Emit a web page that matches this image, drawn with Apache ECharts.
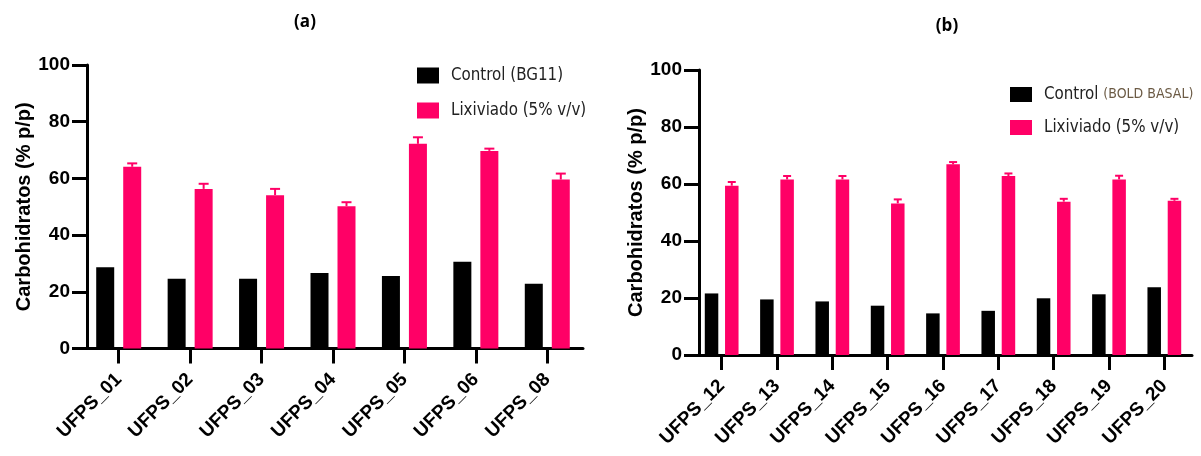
<!DOCTYPE html>
<html>
<head>
<meta charset="utf-8">
<script src="https://cdn.jsdelivr.net/npm/echarts@6/dist/echarts.min.js"></script>
<style>
html,body{margin:0;padding:0;background:#fff;}
#chart{width:1201px;height:456px;}
</style>
</head>
<body>
<div id="chart"></div>
<script>
// ---- Data ----
const categoriesA = ['UFPS_01','UFPS_02','UFPS_03','UFPS_04','UFPS_05','UFPS_06','UFPS_08'];
const controlA = [28.7, 24.6, 24.6, 26.6, 25.6, 30.6, 22.8];
const lixA = [64.1, 56.3, 54.1, 50.2, 72.2, 69.7, 59.6];
const lixErrA = [1.2, 1.8, 2.2, 1.4, 2.3, 0.8, 2.1];

const categoriesB = ['UFPS_12','UFPS_13','UFPS_14','UFPS_15','UFPS_16','UFPS_17','UFPS_18','UFPS_19','UFPS_20'];
const controlB = [21.6, 19.5, 18.8, 17.3, 14.6, 15.5, 19.9, 21.3, 23.8];
const lixB = [59.4, 61.6, 61.6, 53.2, 66.9, 62.8, 53.8, 61.6, 54.1];
const lixErrB = [1.3, 1.2, 1.2, 1.4, 0.8, 0.9, 1.0, 1.3, 0.7];

const yTicks = [0, 20, 40, 60, 80, 100];

const nameCtrlA = 'Control (BG11)';
const nameCtrlB = 'Control (BOLD BASAL)';
const nameLix = 'Lixiviado (5% v/v)';

// ---- Styles ----
const PINK = '#ff0066';
const BLACK = '#000000';
const BOLD_FONT = 'Liberation Sans';

// pick a condensed font for the legend if one is installed
function pickLegendFont() {
  const c = document.createElement('canvas').getContext('2d');
  const probe = 'Control (BG11) Lixiviado';
  const cands = ['Liberation Sans Narrow', 'DejaVu Sans Condensed', 'Arial Narrow', 'Roboto Condensed', 'Open Sans Condensed'];
  c.font = '100px monospace';
  const wMono = c.measureText(probe).width;
  c.font = '100px serif';
  const wSerif = c.measureText(probe).width;
  for (const f of cands) {
    c.font = '100px "' + f + '", monospace';
    const a = c.measureText(probe).width;
    c.font = '100px "' + f + '", serif';
    const b = c.measureText(probe).width;
    if (a !== wMono || b !== wSerif) return f;
  }
  return 'Liberation Sans';
}
const LEG_FONT = pickLegendFont();
function legendSize(target) {
  const c = document.createElement('canvas').getContext('2d');
  c.font = '100px "' + LEG_FONT + '"';
  const w = c.measureText(nameCtrlA).width;
  return Math.min(19, Math.max(13, Math.round(target * 100 / w * 10) / 10));
}
const LEG_SIZE = legendSize(112);

const chart = echarts.init(document.getElementById('chart'), null, {renderer: 'canvas'});

function errorSeries(xIdx, yIdx, means, errs, offset, capHalf) {
  return {
    type: 'custom',
    xAxisIndex: xIdx, yAxisIndex: yIdx,
    z: 5,
    silent: true,
    data: means.map((m, i) => [i, m, errs[i]]),
    renderItem: function (params, api) {
      const i = api.value(0), m = api.value(1), e = api.value(2);
      const base = api.coord([i, m]);
      const top = api.coord([i, m + e]);
      const cx = base[0] + offset;
      return {
        type: 'group',
        children: [
          {type: 'line', shape: {x1: cx, y1: base[1], x2: cx, y2: top[1]}, style: {stroke: PINK, lineWidth: 2}},
          {type: 'line', shape: {x1: cx - capHalf, y1: top[1], x2: cx + capHalf, y2: top[1]}, style: {stroke: PINK, lineWidth: 2}}
        ]
      };
    }
  };
}

function yAxisCfg(gridIndex, offset, nameGap) {
  return {
    type: 'value', gridIndex: gridIndex, min: 0, max: 100, interval: 20,
    offset: offset,
    name: 'Carbohidratos (% p/p)',
    nameLocation: 'middle', nameGap: nameGap,
    nameTextStyle: {fontFamily: BOLD_FONT, fontWeight: 'bold', fontSize: 20, color: BLACK},
    axisLine: {show: true, lineStyle: {color: BLACK, width: 3}},
    axisTick: {show: true, length: 15, lineStyle: {color: BLACK, width: 3}},
    axisLabel: {
      margin: 17, fontFamily: BOLD_FONT, fontWeight: 'bold', fontSize: 19, color: BLACK,
      formatter: v => (yTicks.indexOf(v) >= 0 ? String(v) : '')
    },
    splitLine: {show: false}
  };
}

function xAxisCfg(gridIndex, cats) {
  return {
    type: 'category', gridIndex: gridIndex, data: cats, boundaryGap: true,
    axisLine: {show: true, lineStyle: {color: BLACK, width: 3}},
    axisTick: {show: true, alignWithLabel: true, length: 15, lineStyle: {color: BLACK, width: 3}},
    axisLabel: {rotate: 45, margin: 28, interval: 0, fontFamily: BOLD_FONT, fontWeight: 'bold', fontSize: 19, color: BLACK}
  };
}

const option = {
  animation: false,
  backgroundColor: '#ffffff',
  title: [
    {text: '(a)', left: 300, top: 9, textAlign: 'center',
     textStyle: {fontFamily: '"Open Sans", sans-serif', fontWeight: 'bold', fontSize: 17, color: BLACK}},
    {text: '(b)', left: 942, top: 13, textAlign: 'center',
     textStyle: {fontFamily: '"Open Sans", sans-serif', fontWeight: 'bold', fontSize: 17, color: BLACK}}
  ],
  legend: [
    {
      orient: 'vertical', left: 412, top: 62, itemWidth: 22, itemHeight: 16, itemGap: 18,
      icon: 'rect', selectedMode: false,
      data: [nameCtrlA, nameLix],
      textStyle: {fontFamily: LEG_FONT, fontSize: LEG_SIZE, color: '#222', padding: [0, 0, 0, 7]}
    },
    {
      orient: 'vertical', left: 1005, top: 81, itemWidth: 22, itemHeight: 15, itemGap: 16,
      icon: 'rect', selectedMode: false,
      data: [nameCtrlB, nameLix],
      formatter: function (name) {
        if (name === nameCtrlB) return 'Control {s|(BOLD BASAL)}';
        return name;
      },
      textStyle: {
        fontFamily: LEG_FONT, fontSize: LEG_SIZE, color: '#222', padding: [0, 0, 0, 7],
        rich: {s: {fontFamily: LEG_FONT, fontSize: 14, color: '#6b5a44'}}
      }
    }
  ],
  grid: [
    {left: 83, width: 500, top: 65, height: 283.5},
    {left: 694, width: 498, top: 70, height: 285}
  ],
  xAxis: [xAxisCfg(0, categoriesA), xAxisCfg(1, categoriesB)],
  yAxis: [yAxisCfg(0, -4, 52), yAxisCfg(1, -5, 52)],
  series: [
    {name: nameCtrlA, type: 'bar', xAxisIndex: 0, yAxisIndex: 0, data: controlA,
     barWidth: 18, barGap: '50%', itemStyle: {color: BLACK}},
    {name: nameLix, type: 'bar', xAxisIndex: 0, yAxisIndex: 0, data: lixA,
     barWidth: 18, barGap: '50%', itemStyle: {color: PINK}},
    errorSeries(0, 0, lixA, lixErrA, 13.5, 5),
    {name: nameCtrlB, type: 'bar', xAxisIndex: 1, yAxisIndex: 1, data: controlB,
     barWidth: 13.5, barGap: '50%', itemStyle: {color: BLACK}},
    {name: nameLix, type: 'bar', xAxisIndex: 1, yAxisIndex: 1, data: lixB,
     barWidth: 13.5, barGap: '50%', itemStyle: {color: PINK}},
    errorSeries(1, 1, lixB, lixErrB, 10.1, 4)
  ]
};
chart.setOption(option);
</script>
</body>
</html>
